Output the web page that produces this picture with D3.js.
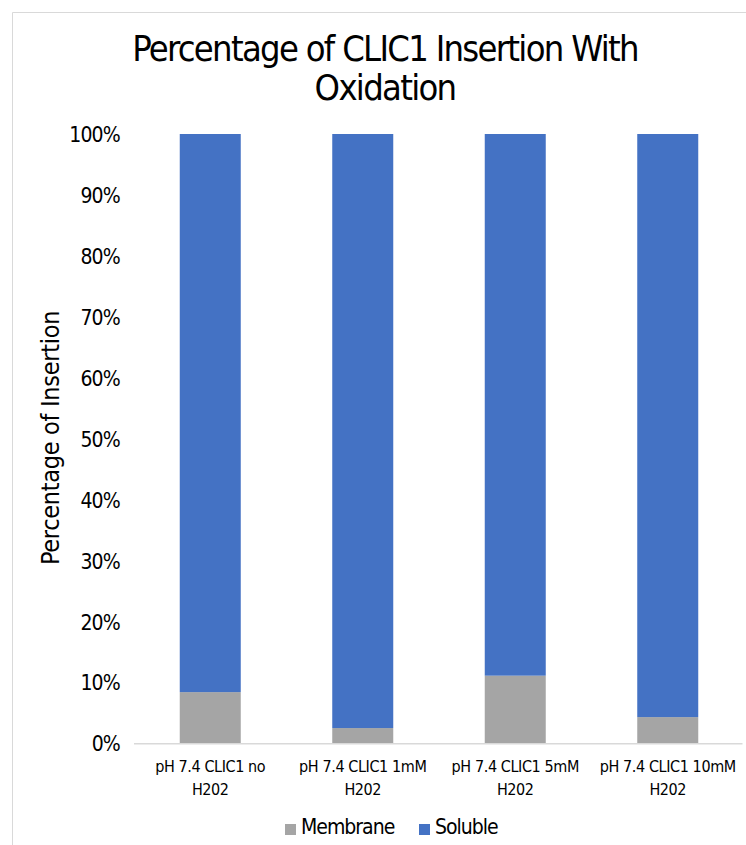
<!DOCTYPE html>
<html>
<head>
<meta charset="utf-8">
<script src="https://cdn.jsdelivr.net/npm/d3@7"></script>
<style>
  html, body { margin: 0; padding: 0; background: #fff; }
  svg { display: block; }
  text { font-family: "DejaVu Sans Condensed", "DejaVu Sans", Verdana, sans-serif; font-stretch: condensed; fill: #000; }
</style>
</head>
<body>
<svg id="chart" width="746" height="845"></svg>
<script>
// Chart data
const categories = [
  ["pH 7.4 CLIC1 no", "H202"],
  ["pH 7.4 CLIC1 1mM", "H202"],
  ["pH 7.4 CLIC1 5mM", "H202"],
  ["pH 7.4 CLIC1 10mM", "H202"]
];
const seriesNames = ["Membrane", "Soluble"];
const membrane = [0.084, 0.025, 0.111, 0.043];
const soluble = [0.916, 0.975, 0.889, 0.957];
const yTicks = [0, 0.1, 0.2, 0.3, 0.4, 0.5, 0.6, 0.7, 0.8, 0.9, 1.0];
const colors = ["#A5A5A5", "#4472C4"];
const titleLines = ["Percentage of CLIC1 Insertion With", "Oxidation"];
const yTitle = "Percentage of Insertion";

const svg = d3.select("#chart");

// chart area frame
svg.append("path")
  .attr("d", "M12.5,845 L12.5,12.5 L746,12.5")
  .attr("fill", "none")
  .attr("stroke", "#d9d9d9")
  .attr("stroke-width", 1);

const plot = { left: 134, right: 744, top: 134, bottom: 743.3 };

const x = d3.scaleBand()
  .domain(d3.range(categories.length))
  .range([plot.left, plot.right])
  .paddingInner(0.6)
  .paddingOuter(0.3);

const y = d3.scaleLinear().domain([0, 1]).range([plot.bottom, plot.top]);

// stacked series
const rows = categories.map((c, i) => ({ i, Membrane: membrane[i], Soluble: soluble[i] }));
const stack = d3.stack().keys(seriesNames)(rows);

svg.append("g").selectAll("g")
  .data(stack)
  .join("g")
  .attr("fill", (d, k) => colors[k])
  .selectAll("rect")
  .data(d => d)
  .join("rect")
  .attr("x", d => x(d.data.i))
  .attr("width", x.bandwidth())
  .attr("y", d => y(d[1]))
  .attr("height", d => y(d[0]) - y(d[1]));

// baseline axis
svg.append("line")
  .attr("x1", plot.left).attr("x2", plot.right - 1.5)
  .attr("y1", y(0) + 0.5).attr("y2", y(0) + 0.5)
  .attr("stroke", "#d9d9d9").attr("stroke-width", 1.5);

// y tick labels
const yAxis = d3.axisLeft(y)
  .tickValues(yTicks)
  .tickSize(0)
  .tickPadding(0)
  .tickFormat(d3.format(".0%"));
const gy = svg.append("g").attr("transform", "translate(120,0)").call(yAxis);
gy.select(".domain").remove();
gy.selectAll("text")
  .attr("font-size", 21)
  .attr("letter-spacing", "-0.8px")
  .attr("font-family", null)
  .attr("dy", "0.36em")
  .attr("fill", "#000");

// x category labels
const xl = svg.append("g").selectAll("text")
  .data(categories)
  .join("text")
  .attr("text-anchor", "middle")
  .attr("font-size", 16)
  .attr("letter-spacing", "-0.4px")
  .attr("transform", (d, i) => `translate(${x(i) + x.bandwidth() / 2},772)`);
xl.selectAll("tspan")
  .data(d => d)
  .join("tspan")
  .attr("x", 0)
  .attr("y", (d, j) => j * 23)
  .text(d => d);

// title
svg.append("text")
  .attr("text-anchor", "middle")
  .attr("font-size", 36)
  .attr("letter-spacing", "-1.7px")
  .selectAll("tspan")
  .data(titleLines)
  .join("tspan")
  .attr("x", 385)
  .attr("y", (d, j) => 61 + j * 39)
  .text(d => d);

// y axis title
svg.append("text")
  .attr("text-anchor", "middle")
  .attr("font-size", 25)
  .attr("letter-spacing", "-0.3px")
  .attr("transform", "translate(59,438) rotate(-90)")
  .text(yTitle);

// legend
const legend = svg.append("g").attr("transform", "translate(285,834)");
const legendItems = [
  { name: seriesNames[0], color: colors[0], x: 0 },
  { name: seriesNames[1], color: colors[1], x: 134 }
];
const li = legend.selectAll("g").data(legendItems).join("g")
  .attr("transform", d => `translate(${d.x},0)`);
li.append("rect")
  .attr("x", 0).attr("y", -10)
  .attr("width", 11).attr("height", 11)
  .attr("fill", d => d.color);
li.append("text")
  .attr("x", 16).attr("y", 0)
  .attr("font-size", 21)
  .attr("letter-spacing", "-1px")
  .text(d => d.name);
</script>
</body>
</html>
